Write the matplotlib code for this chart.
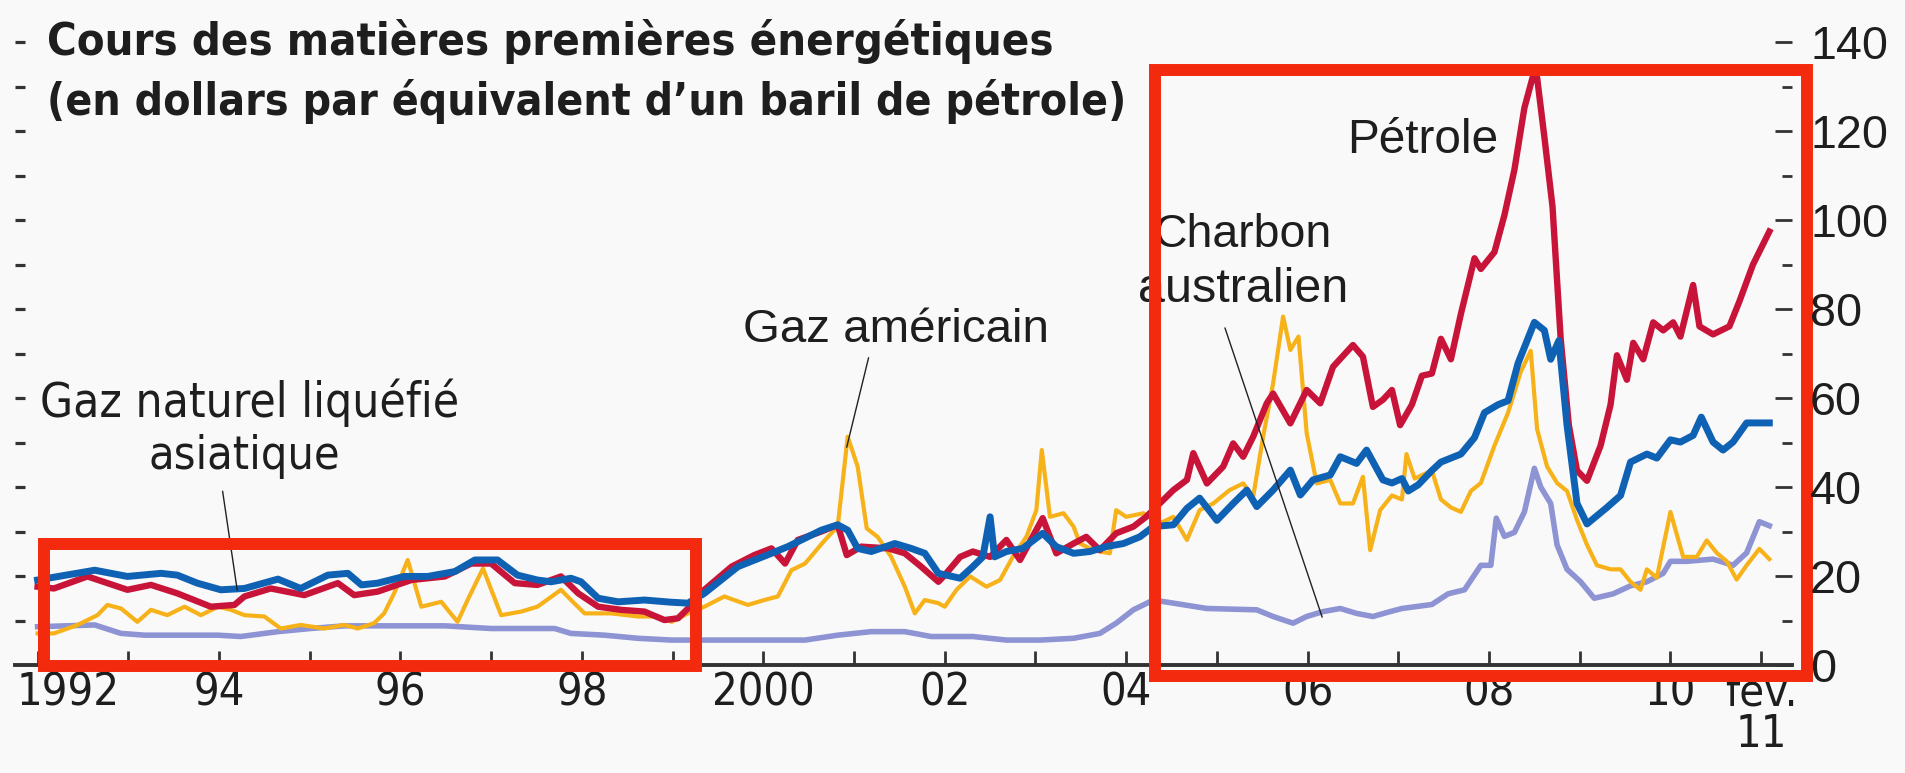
import matplotlib
matplotlib.use("Agg")
import matplotlib.pyplot as plt
from matplotlib.patches import Rectangle
from matplotlib.ticker import FixedLocator
from matplotlib import font_manager as fm
import matplotlib.transforms as mtransforms

# ---------------- data (decimal years, $ per barrel-of-oil equivalent) ----------------
gnl_years = [1992.00, 1992.63, 1992.99, 1993.36, 1993.54, 1993.76, 1994.02, 1994.28, 1994.65, 1994.90,
             1995.20, 1995.42, 1995.57, 1995.75, 1996.04, 1996.30, 1996.60, 1996.82, 1997.07, 1997.29,
             1997.51, 1997.66, 1997.88, 1997.99, 1998.18, 1998.40, 1998.69, 1998.99, 1999.17, 1999.35,
             1999.72, 2000.09, 2000.27, 2000.46, 2000.64, 2000.82, 2000.93, 2001.04, 2001.19, 2001.45,
             2001.63, 2001.78, 2001.93, 2002.17, 2002.31, 2002.42, 2002.50, 2002.55, 2002.68, 2002.86,
             2003.08, 2003.23, 2003.42, 2003.60, 2003.78, 2003.97, 2004.15, 2004.30, 2004.52, 2004.67,
             2004.81, 2005.00, 2005.18, 2005.33, 2005.44, 2005.62, 2005.81, 2005.92, 2006.06, 2006.25,
             2006.36, 2006.54, 2006.65, 2006.83, 2006.93, 2007.04, 2007.11, 2007.22, 2007.37, 2007.47,
             2007.58, 2007.69, 2007.84, 2007.95, 2008.10, 2008.21, 2008.32, 2008.50, 2008.61, 2008.68,
             2008.77, 2008.86, 2008.97, 2009.08, 2009.30, 2009.45, 2009.56, 2009.74, 2009.85, 2010.00,
             2010.11, 2010.25, 2010.34, 2010.47, 2010.58, 2010.69, 2010.84, 2011.09]
gnl_values = [19.1, 21.3, 19.9, 20.6, 20.2, 18.4, 16.9, 17.2, 19.3, 17.2,
              20.2, 20.6, 18.0, 18.4, 19.9, 19.9, 21.0, 23.6, 23.6, 20.2,
              19.1, 18.7, 19.5, 18.7, 15.0, 14.2, 14.6, 14.1, 13.9, 16.1,
              22.1, 25.1, 26.6, 28.5, 30.3, 31.5, 30.3, 26.2, 25.5, 27.3,
              26.2, 25.1, 20.6, 19.5, 22.1, 24.3, 33.3, 24.3, 25.5, 26.2,
              29.6, 26.6, 25.1, 25.5, 26.6, 27.3, 28.8, 31.1, 31.5, 35.2,
              37.5, 32.5, 36.3, 39.3, 35.6, 39.3, 43.8, 38.2, 41.6, 42.7,
              46.8, 45.3, 48.3, 41.6, 40.9, 41.9, 39.1, 40.5, 43.7, 45.6,
              46.5, 47.4, 51.1, 56.7, 58.5, 59.4, 67.8, 77.0, 75.2, 68.7,
              72.9, 53.9, 36.3, 31.7, 35.4, 38.1, 45.6, 47.4, 46.5, 50.6,
              50.1, 51.6, 55.7, 50.1, 48.3, 50.1, 54.4, 54.4]

petrole_years = [1992.00, 1992.18, 1992.55, 1992.99, 1993.25, 1993.54, 1993.91, 1994.17, 1994.28, 1994.57,
                 1994.94, 1995.31, 1995.49, 1995.75, 1996.12, 1996.49, 1996.78, 1997.00, 1997.26, 1997.51,
                 1997.77, 1997.96, 1998.18, 1998.43, 1998.69, 1998.91, 1999.06, 1999.17, 1999.35, 1999.65,
                 1999.90, 2000.09, 2000.24, 2000.38, 2000.64, 2000.82, 2000.92, 2001.08, 2001.38, 2001.56,
                 2001.74, 2001.93, 2002.00, 2002.17, 2002.31, 2002.50, 2002.68, 2002.83, 2003.08, 2003.23,
                 2003.42, 2003.56, 2003.71, 2003.89, 2004.08, 2004.22, 2004.37, 2004.52, 2004.67, 2004.74,
                 2004.89, 2005.07, 2005.18, 2005.29, 2005.40, 2005.55, 2005.62, 2005.81, 2005.99, 2006.14,
                 2006.28, 2006.50, 2006.61, 2006.72, 2006.83, 2006.93, 2007.02, 2007.15, 2007.26, 2007.37,
                 2007.47, 2007.58, 2007.69, 2007.84, 2007.91, 2008.06, 2008.17, 2008.28, 2008.39, 2008.48,
                 2008.53, 2008.61, 2008.70, 2008.79, 2008.88, 2008.97, 2009.08, 2009.23, 2009.34, 2009.41,
                 2009.52, 2009.59, 2009.70, 2009.81, 2009.92, 2010.03, 2010.11, 2010.25, 2010.32, 2010.47,
                 2010.65, 2010.76, 2010.91, 2011.09]
petrole_values = [17.6, 17.2, 19.9, 16.9, 18.0, 16.1, 13.1, 13.5, 15.4, 17.2,
                  15.7, 18.4, 15.7, 16.5, 19.1, 19.9, 22.8, 22.8, 18.4, 18.0,
                  19.9, 16.1, 13.1, 12.4, 12.0, 10.1, 10.5, 12.7, 16.9, 22.1,
                  24.7, 26.2, 22.8, 28.1, 30.0, 31.5, 24.7, 26.6, 26.2, 25.1,
                  22.1, 18.7, 20.2, 24.3, 25.5, 24.3, 28.1, 23.6, 33.0, 25.1,
                  27.3, 28.8, 25.8, 29.6, 31.1, 33.3, 36.3, 39.3, 41.6, 47.6,
                  40.8, 44.6, 49.8, 46.8, 51.3, 58.8, 61.0, 54.3, 61.8, 58.8,
                  67.0, 71.9, 69.3, 58.0, 59.6, 61.8, 53.9, 58.5, 65.0, 65.5,
                  73.3, 68.7, 78.9, 91.4, 89.0, 92.8, 101.1, 111.3, 125.2, 132.0,
                  132.0, 118.7, 103.0, 73.3, 53.9, 43.7, 41.4, 49.3, 58.5, 69.6,
                  64.1, 72.4, 68.7, 77.0, 75.2, 77.0, 73.8, 85.4, 76.1, 74.3,
                  76.1, 81.7, 90.0, 97.4]

gaz_us_years = [1992.00, 1992.18, 1992.44, 1992.66, 1992.77, 1992.92, 1993.10, 1993.25, 1993.43, 1993.62,
                1993.80, 1993.99, 1994.13, 1994.28, 1994.50, 1994.68, 1994.90, 1995.16, 1995.38, 1995.53,
                1995.71, 1995.82, 1995.93, 1996.08, 1996.23, 1996.45, 1996.63, 1996.74, 1996.91, 1997.11,
                1997.33, 1997.51, 1997.77, 1997.88, 1998.03, 1998.32, 1998.62, 1998.84, 1998.99, 1999.17,
                1999.35, 1999.57, 1999.83, 2000.01, 2000.16, 2000.31, 2000.46, 2000.68, 2000.82, 2000.93,
                2001.04, 2001.14, 2001.26, 2001.41, 2001.56, 2001.67, 2001.78, 2001.93, 2002.00, 2002.13,
                2002.28, 2002.46, 2002.61, 2002.75, 2002.90, 2003.01, 2003.07, 2003.16, 2003.31, 2003.42,
                2003.49, 2003.64, 2003.82, 2003.89, 2004.00, 2004.19, 2004.37, 2004.52, 2004.67, 2004.81,
                2004.96, 2005.14, 2005.29, 2005.40, 2005.51, 2005.62, 2005.73, 2005.81, 2005.90, 2005.99,
                2006.10, 2006.25, 2006.36, 2006.50, 2006.61, 2006.69, 2006.80, 2006.93, 2007.04, 2007.09,
                2007.18, 2007.37, 2007.47, 2007.58, 2007.69, 2007.80, 2007.91, 2008.06, 2008.21, 2008.35,
                2008.46, 2008.53, 2008.64, 2008.75, 2008.86, 2008.97, 2009.08, 2009.19, 2009.34, 2009.45,
                2009.56, 2009.67, 2009.74, 2009.85, 2010.00, 2010.14, 2010.29, 2010.40, 2010.51, 2010.62,
                2010.73, 2010.84, 2010.98, 2011.09]
gaz_us_values = [7.1, 7.1, 9.0, 11.2, 13.5, 12.7, 9.7, 12.4, 11.2, 13.1,
                 11.2, 13.1, 12.4, 11.2, 10.9, 8.2, 9.0, 8.2, 9.0, 8.2,
                 9.4, 11.6, 16.1, 23.6, 13.1, 14.2, 9.7, 14.6, 21.7, 11.2,
                 12.0, 13.1, 16.9, 14.6, 11.6, 11.6, 10.9, 10.9, 9.7, 11.6,
                 13.1, 15.4, 13.5, 14.6, 15.4, 21.3, 22.8, 28.1, 31.1, 51.3,
                 44.6, 30.7, 28.8, 24.3, 17.6, 11.6, 14.6, 13.9, 13.1, 16.9,
                 19.9, 17.6, 19.1, 24.3, 28.8, 34.8, 48.3, 33.3, 34.1, 31.1,
                 27.3, 25.8, 25.1, 34.8, 33.3, 34.1, 31.8, 33.3, 28.1, 34.8,
                 36.3, 39.3, 40.8, 37.8, 51.3, 63.3, 78.3, 70.8, 73.8, 52.1,
                 40.8, 41.6, 36.3, 36.3, 42.3, 25.8, 34.8, 38.1, 37.2, 47.4,
                 41.9, 43.7, 37.2, 35.4, 34.4, 39.1, 40.9, 49.3, 56.7, 65.9,
                 70.6, 53.0, 44.6, 40.9, 39.1, 32.6, 27.0, 22.4, 21.5, 21.5,
                 18.7, 16.9, 21.5, 19.6, 34.4, 24.3, 24.3, 28.0, 25.2, 23.3,
                 19.2, 22.4, 26.1, 23.8]

charbon_years = [1992.00, 1992.63, 1992.92, 1993.18, 1993.99, 1994.24, 1994.65, 1995.01, 1995.38, 1996.49,
                 1997.00, 1997.70, 1997.88, 1998.25, 1998.62, 1998.99, 2000.46, 2000.82, 2001.19, 2001.56,
                 2001.85, 2002.31, 2002.68, 2003.05, 2003.42, 2003.71, 2003.89, 2004.08, 2004.30, 2004.52,
                 2004.89, 2005.44, 2005.62, 2005.84, 2005.99, 2006.17, 2006.36, 2006.54, 2006.72, 2006.91,
                 2007.04, 2007.37, 2007.55, 2007.73, 2007.91, 2008.02, 2008.08, 2008.17, 2008.28, 2008.39,
                 2008.50, 2008.57, 2008.68, 2008.75, 2008.86, 2009.01, 2009.16, 2009.37, 2009.56, 2009.74,
                 2009.92, 2010.00, 2010.18, 2010.47, 2010.69, 2010.84, 2010.98, 2011.09]
charbon_values = [8.6, 9.0, 7.1, 6.7, 6.7, 6.4, 7.5, 8.2, 8.8, 8.8,
                  8.2, 8.2, 7.1, 6.7, 6.0, 5.6, 5.6, 6.7, 7.5, 7.5,
                  6.4, 6.4, 5.6, 5.6, 6.0, 7.1, 9.4, 12.4, 14.6, 13.9,
                  12.7, 12.4, 10.9, 9.4, 10.9, 12.0, 12.7, 11.6, 10.9, 12.0,
                  12.7, 13.6, 16.0, 16.9, 22.4, 22.4, 33.0, 28.9, 29.8, 34.4,
                  44.2, 40.0, 36.3, 27.0, 21.5, 18.7, 15.0, 16.0, 17.8, 18.7,
                  20.6, 23.3, 23.3, 23.8, 22.4, 25.2, 32.2, 31.3]

year_ticks = list(range(1992, 2012))
year_labels = ["1992", "", "94", "", "96", "", "98", "", "2000", "", "02", "", "04", "",
               "06", "", "08", "", "10", "fév.\n11"]
right_major = [0, 20, 40, 60, 80, 100, 120, 140]
right_minor = [10, 30, 50, 70, 90, 110, 130]
left_ticks = [10, 20, 30, 40, 50, 60, 70, 80, 90, 100, 110, 120, 130, 140]

title_lines = ["Cours des matières premières énergétiques",
               "(en dollars par équivalent d’un baril de pétrole)"]

# highlight boxes (x0, x1, y0, y1) in data units
highlight_boxes = [(1992.07, 1999.26, -0.2, 27.2), (2004.32, 2011.51, -2.5, 133.7)]


# ---------------- fonts: prefer a condensed face if one is installed ----------------
def find_face(keys, fallback_family, weight="normal"):
    files = sorted({f.fname for f in fm.fontManager.ttflist})
    for key in keys:
        for fn in files:
            base = fn.replace("\\", "/").split("/")[-1]
            if base.lower() == key.lower():
                return fm.FontProperties(fname=fn)
    return fm.FontProperties(family=fallback_family, weight=weight)


FP_COND_BOLD = find_face(["LiberationSansNarrow-Bold.ttf", "DejaVuSansCondensed-Bold.ttf",
                          "RobotoCondensed-Bold.ttf", "OpenSans-CondBold.ttf"],
                         ["Liberation Sans", "DejaVu Sans"], "bold")
FP_COND = find_face(["LiberationSansNarrow-Regular.ttf", "DejaVuSansCondensed.ttf",
                     "RobotoCondensed-Regular.ttf", "OpenSans-CondLight.ttf"],
                    ["Liberation Sans", "DejaVu Sans"])
FP_REG = fm.FontProperties(family=["Liberation Sans", "DejaVu Sans"])

# ---------------- figure ----------------
W, H = 1905, 773
fig = plt.figure(figsize=(W / 100, H / 100), dpi=100)
fig.patch.set_facecolor("#F9F9F9")

AX_L, AX_R, AX_B, AX_T = 15, 1792, 665, 42
ax = fig.add_axes([AX_L / W, 1 - AX_B / H, (AX_R - AX_L) / W, (AX_B - AX_T) / H])
ax.set_facecolor("none")
ax.set_xlim(1991.751, 2011.34)
ax.set_ylim(0, 140)

TXT = "#1e1e1e"
AXC = "#333333"

C_CHARBON = "#8D93D3"
C_GAZUS = "#F7B21A"
C_PETROLE = "#C9143A"
C_GNL = "#0F62B3"

ax.plot(charbon_years, charbon_values, color=C_CHARBON, lw=4.0, zorder=2, solid_joinstyle="round")
ax.plot(gaz_us_years, gaz_us_values, color=C_GAZUS, lw=3.0, zorder=3, solid_joinstyle="round")
ax.plot(petrole_years, petrole_values, color=C_PETROLE, lw=4.6, zorder=4, solid_joinstyle="round")
ax.plot(gnl_years, gnl_values, color=C_GNL, lw=5.0, zorder=5, solid_joinstyle="round")

# spines
for s in ["top", "right", "left"]:
    ax.spines[s].set_visible(False)
ax.spines["bottom"].set_color(AXC)
ax.spines["bottom"].set_linewidth(2.8)

# x ticks
ax.xaxis.set_major_locator(FixedLocator(year_ticks))
ax.set_xticklabels(year_labels, fontproperties=FP_COND, color=TXT, linespacing=0.95)
ax.tick_params(axis="x", direction="in", length=10, width=2.0, color=AXC, pad=5, labelsize=40)

# left ticks (no labels)
ax.yaxis.set_major_locator(FixedLocator(left_ticks))
ax.tick_params(axis="y", direction="in", length=7.5, width=2.3, color=AXC, labelleft=False)

# right axis
ax2 = ax.twinx()
ax2.set_ylim(0, 140)
for s in ["top", "right", "left", "bottom"]:
    ax2.spines[s].set_visible(False)
ax2.yaxis.set_major_locator(FixedLocator(right_major))
ax2.yaxis.set_minor_locator(FixedLocator(right_minor))
ax2.set_yticklabels([str(v) for v in right_major], fontproperties=FP_REG, color=TXT)
ax2.tick_params(axis="y", which="major", direction="in", length=12.5, width=2.0, color=AXC,
                pad=13, labelsize=28)
ax2.tick_params(axis="y", which="minor", direction="in", length=7.5, width=2.0, color=AXC)

# title
t1 = fig.text(47 / W, 1 - 55 / H, title_lines[0], fontproperties=FP_COND_BOLD, weight="bold",
              color=TXT, ha="left", va="baseline")
t2 = fig.text(47 / W, 1 - 115 / H, title_lines[1], fontproperties=FP_COND_BOLD, weight="bold",
              color=TXT, ha="left", va="baseline")
t1.set_fontsize(30)
t2.set_fontsize(30)

# annotations
ann_specs = [
    (1994.34, 55.7, "Gaz naturel liquéfié", FP_COND, 419),
    (1994.28, 44.0, "asiatique", FP_COND, 192),
    (2001.46, 72.6, "Gaz américain", FP_REG, 305),
    (2005.29, 93.9, "Charbon", FP_REG, 178),
    (2005.29, 81.6, "australien", FP_REG, 210),
    (2007.27, 115.1, "Pétrole", FP_REG, 151),
]
ann_texts = []
for x, y, s, fp, target in ann_specs:
    t = ax.text(x, y, s, fontproperties=fp, color=TXT, ha="center", va="baseline", zorder=6)
    t.set_fontsize(28)
    ann_texts.append((t, target))

leaders = [((1994.04, 39.0), (1994.20, 16.9)),
           ((2001.16, 69.0), (2000.92, 49.0)),
           ((2005.09, 75.7), (2006.16, 10.8))]
for (xa, ya), (xb, yb) in leaders:
    ax.plot([xa, xb], [ya, yb], color="#222222", lw=1.0, zorder=6)

# highlight boxes
for x0, x1, y0, y1 in highlight_boxes:
    ax.add_patch(Rectangle((x0, y0), x1 - x0, y1 - y0, fill=False, ec="#F32A0D", lw=8.6,
                           joinstyle="miter", clip_on=False, zorder=10))


def fit(pairs, rounds=2):
    for _ in range(rounds):
        fig.canvas.draw()
        r = fig.canvas.get_renderer()
        for t, target in pairs:
            w = t.get_window_extent(r).width
            if w > 0:
                t.set_fontsize(t.get_fontsize() * target / w)


fit([(t1, 1005), (t2, 1081)] + ann_texts)

# fit tick label sizes
for _ in range(2):
    fig.canvas.draw()
    r = fig.canvas.get_renderer()
    lx = [l for l in ax.get_xticklabels() if l.get_text() == "2000"][0]
    sx = lx.get_fontsize() * 103 / lx.get_window_extent(r).width
    ax.tick_params(axis="x", labelsize=sx)
    ly = [l for l in ax2.get_yticklabels() if l.get_text() == "140"][0]
    sy = ly.get_fontsize() * 78 / ly.get_window_extent(r).width
    ax2.tick_params(axis="y", which="major", labelsize=sy)

# shift the "1992" label to the right, as in the reference
fig.canvas.draw()
lab0 = ax.get_xticklabels()[0]
lab0.set_transform(lab0.get_transform() + mtransforms.ScaledTranslation(30 / 100, 0, fig.dpi_scale_trans))

fig.savefig("out.png", dpi=100, facecolor=fig.get_facecolor())
